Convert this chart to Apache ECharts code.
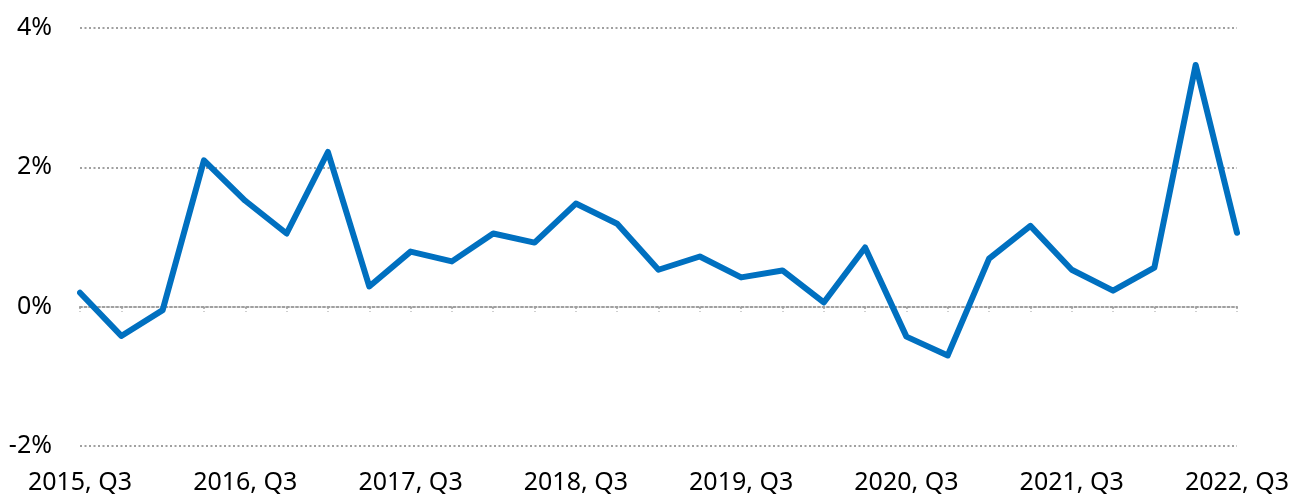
<!DOCTYPE html>
<html>
<head>
<meta charset="UTF-8">
<title>Quarterly change</title>
<script src="https://cdn.jsdelivr.net/npm/echarts@6/dist/echarts.min.js"></script>
<style>
    html, body { margin: 0; padding: 0; background: #fff; }
    #main { width: 1290px; height: 496px; }
</style>
</head>
<body>
<div id="main"></div>
<script type="text/javascript">
    // quarters, 2015 Q3 .. 2022 Q3
    var quarters = [
        '2015, Q3', '2015, Q4', '2016, Q1', '2016, Q2',
        '2016, Q3', '2016, Q4', '2017, Q1', '2017, Q2',
        '2017, Q3', '2017, Q4', '2018, Q1', '2018, Q2',
        '2018, Q3', '2018, Q4', '2019, Q1', '2019, Q2',
        '2019, Q3', '2019, Q4', '2020, Q1', '2020, Q2',
        '2020, Q3', '2020, Q4', '2021, Q1', '2021, Q2',
        '2021, Q3', '2021, Q4', '2022, Q1', '2022, Q2',
        '2022, Q3'
    ];
    // percent change
    var values = [
        0.20, -0.42, -0.05, 2.10,
        1.52, 1.05, 2.22, 0.29,
        0.79, 0.65, 1.05, 0.92,
        1.48, 1.19, 0.53, 0.72,
        0.42, 0.52, 0.06, 0.85,
        -0.43, -0.70, 0.69, 1.16,
        0.53, 0.23, 0.56, 3.47,
        1.06
    ];
    var yTicks = [-2, 0, 2, 4];

    var labelFont = 'Noto Sans';
    var dotted = {color: '#a0a0a0', width: 2, type: [2, 2.5]};
    var chart = echarts.init(document.getElementById('main'));
    chart.setOption({
        animation: false,
        grid: {left: 80, right: 53, top: 28, bottom: 50, outerBoundsMode: 'none', containLabel: false},
        xAxis: [{
            // labels along the bottom
            type: 'category',
            data: quarters,
            boundaryGap: false,
            position: 'bottom',
            axisLine: {show: false, onZero: false},
            axisTick: {show: false},
            axisLabel: {
                interval: 3,
                margin: 24,
                color: '#000',
                fontFamily: labelFont,
                fontSize: 25
            },
            splitLine: {show: false}
        }, {
            // dotted zero line with ticks
            type: 'category',
            data: quarters,
            boundaryGap: false,
            position: 'top',
            axisLine: {show: true, onZero: true, lineStyle: dotted},
            axisTick: {show: true, inside: true, interval: 0, length: 5, lineStyle: dotted},
            axisLabel: {show: false},
            splitLine: {show: false}
        }],
        yAxis: {
            type: 'value',
            min: yTicks[0],
            max: yTicks[yTicks.length - 1],
            interval: 2,
            axisLine: {show: false},
            axisTick: {show: false},
            axisLabel: {
                margin: 28,
                color: '#000',
                fontFamily: labelFont,
                fontSize: 25,
                formatter: function (v) { return v + '%'; }
            },
            splitLine: {lineStyle: dotted}
        },
        series: [{
            type: 'line',
            data: values,
            symbol: 'none',
            lineStyle: {color: '#0070C0', width: 6, cap: 'round', join: 'round'}
        }]
    });
</script>
</body>
</html>
